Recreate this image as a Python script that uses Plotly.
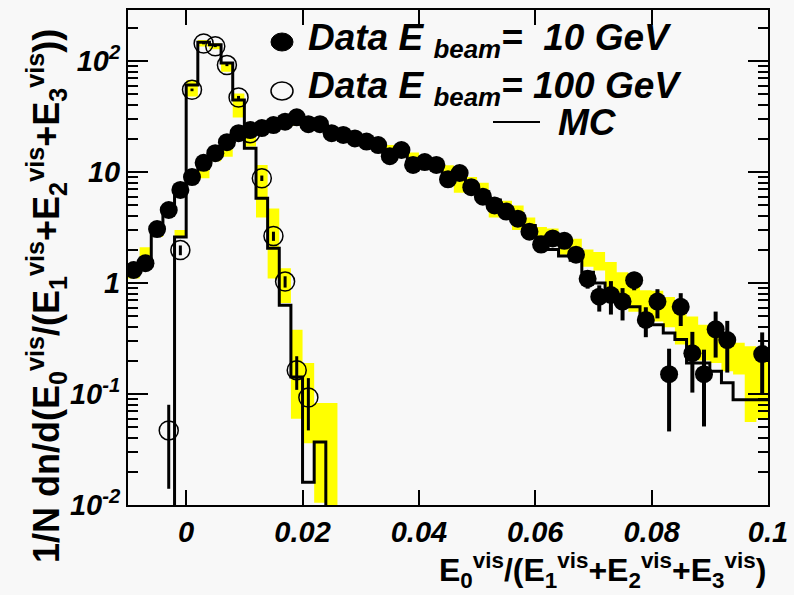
import plotly.graph_objects as go

# ---------------- data ----------------
# 10 GeV data (filled circles): bin centres, values, errors
x10 = [-0.009, -0.007, -0.005, -0.003, -0.001, 0.001, 0.003, 0.005, 0.007, 0.009,
       0.011, 0.013, 0.015, 0.017, 0.019, 0.021, 0.023, 0.025, 0.027, 0.029,
       0.031, 0.033, 0.035, 0.037, 0.039, 0.041, 0.043, 0.045, 0.047, 0.049,
       0.051, 0.053, 0.055, 0.057, 0.059, 0.061, 0.063, 0.065, 0.067, 0.069,
       0.071, 0.073, 0.075, 0.077, 0.079, 0.081, 0.083, 0.085, 0.087, 0.089,
       0.091, 0.093, 0.099]
y10 = [1.31, 1.51, 3.06, 4.55, 6.9, 9.0, 12.1, 14.8, 18.6, 22.4,
       23.9, 24.9, 26.5, 28.4, 31.1, 27.0, 27.0, 22.4, 21.6, 20.1,
       18.8, 17.5, 13.9, 15.8, 11.6, 12.3, 11.6, 8.6, 9.8, 7.3,
       6.0, 5.0, 4.4, 3.8, 2.9, 2.22, 2.52, 2.4, 1.8, 1.09,
       0.753, 0.78, 0.68, 1.06, 0.465, 0.68, 0.151, 0.61, 0.233, 0.151,
       0.383, 0.306, 0.229]
e10 = [0.05, 0.06, 0.1, 0.12, 0.15, 0.2, 0.25, 0.3, 0.35, 0.4,
       0.4, 0.4, 0.45, 0.45, 0.5, 0.45, 0.45, 0.4, 0.4, 0.4,
       0.35, 0.35, 0.3, 0.3, 0.28, 0.28, 0.28, 0.22, 0.24, 0.2,
       0.18, 0.16, 0.15, 0.14, 0.13, 0.16, 0.17, 0.17, 0.15, 0.2,
       0.2, 0.26, 0.22, 0.2, 0.14, 0.2, 0.105, 0.2, 0.13, 0.1,
       0.17, 0.15, 0.13]

# 100 GeV data (open circles)
x100 = [-0.003, -0.001, 0.001, 0.003, 0.005, 0.007, 0.009, 0.011, 0.013, 0.015,
        0.017, 0.019, 0.021]
y100 = [0.047, 1.98, 55, 144, 136, 92, 47, 22.4, 8.8, 2.65, 1.03, 0.164, 0.093]
e100 = [0.033, 0.2, 1.5, 2.5, 2.5, 2.0, 1.5, 1.0, 0.5, 0.25, 0.12, 0.055, 0.046]

# MC 10 GeV histogram: bin edges, contents, uncertainty band
edges10 = [-0.010, -0.008, -0.006, -0.004, -0.002, 0.000, 0.002, 0.004, 0.006, 0.008,
           0.010, 0.012, 0.014, 0.016, 0.018, 0.020, 0.022, 0.024, 0.026, 0.028,
           0.030, 0.032, 0.034, 0.036, 0.038, 0.040, 0.042, 0.044, 0.046, 0.048,
           0.050, 0.052, 0.054, 0.056, 0.058, 0.060, 0.062, 0.064, 0.066, 0.068,
           0.070, 0.072, 0.074, 0.076, 0.078, 0.080, 0.082, 0.084, 0.086, 0.088,
           0.090, 0.092, 0.094, 0.096, 0.098, 0.100]
mc10 = [1.25, 1.45, 2.9, 4.4, 6.6, 8.8, 11.5, 14.5, 18.0, 21.5,
        23.5, 25.0, 26.5, 28.0, 29.0, 27.5, 26.0, 23.5, 21.5, 20.0,
        18.5, 17.0, 15.5, 14.5, 13.0, 12.0, 11.0, 9.6, 8.8, 7.6,
        6.6, 5.6, 4.8, 4.0, 3.3, 2.6, 2.0, 1.75, 1.6, 1.25,
        1.0, 0.85, 0.72, 0.61, 0.465, 0.42, 0.355, 0.31, 0.19, 0.19,
        0.16, 0.126, 0.089, 0.089, 0.089]
lo10 = [1.1, 1.6, 2.6, 4.0, 6.0, 7.8, 8.8, 12.5, 13.7, 19.0,
        21.0, 23.0, 24.0, 26.0, 26.0, 25.0, 24.0, 21.0, 20.0, 19.0,
        17.5, 16.0, 14.5, 13.5, 12.5, 11.5, 10.5, 9.5, 6.5, 7.0,
        6.2, 3.9, 4.2, 3.0, 2.9, 2.5, 2.4, 1.8, 1.7, 1.4,
        1.3, 0.8, 0.75, 0.55, 0.45, 0.45, 0.4, 0.28, 0.26, 0.2,
        0.19, 0.16, 0.15, 0.056, 0.06]
hi10 = [1.5, 2.1, 3.2, 4.8, 7.2, 9.2, 11.5, 15.0, 17.0, 23.0,
        25.0, 26.0, 28.0, 30.0, 31.0, 29.0, 28.0, 25.0, 23.5, 22.0,
        20.5, 19.0, 17.5, 16.0, 15.0, 13.5, 12.5, 11.5, 9.0, 9.0,
        8.0, 5.2, 5.5, 5.0, 3.9, 3.2, 3.1, 2.6, 2.5, 2.0,
        1.9, 1.55, 1.25, 0.95, 0.86, 0.85, 0.75, 0.55, 0.5, 0.42,
        0.4, 0.3, 0.29, 0.27, 0.25]

# MC 100 GeV histogram
edges100 = [-0.004, -0.002, 0.000, 0.002, 0.004, 0.006, 0.008, 0.010, 0.012, 0.014,
            0.016, 0.018, 0.020, 0.022, 0.024, 0.026]
mc100 = [1e-4, 2.6, 61, 148, 140, 96, 44.5, 16.4, 5.8, 2.06, 0.63, 0.142, 0.016, 0.037, 1e-4]
bedges100 = [-0.002, 0.000, 0.002, 0.004, 0.006, 0.008, 0.010, 0.012, 0.014, 0.016,
             0.018, 0.020, 0.022, 0.024, 0.026]
lo100 = [2.6, 48, 135, 128, 80, 31, 17, 3.9, 1.1, 0.66, 0.06, 0.036, 0.0105, 0.005]
hi100 = [3.0, 67, 155, 145, 96, 51, 27.6, 11.6, 4.7, 1.36, 0.38, 0.19, 0.083, 0.083]

xtickvals = [0, 0.02, 0.04, 0.06, 0.08, 0.1]
xticktext = ["0", "0.02", "0.04", "0.06", "0.08", "0.1"]
ytickvals = [0.01, 0.1, 1, 10, 100]
yticktext = ["10<sup>-2</sup>", "10<sup>-1</sup>", "1", "10", "10<sup>2</sup>"]
yminor = [m * d for d in [0.01, 0.1, 1, 10, 100] for m in range(2, 10) if m * d < 300]

# ---------------- helpers ----------------
def band_xy(edges, lo, hi):
    xs, ys = [], []
    for i in range(len(lo)):
        x0, x1 = edges[i], edges[i + 1]
        xs += [x0, x1, x1, x0, x0, None]
        ys += [lo[i], lo[i], hi[i], hi[i], lo[i], None]
    return xs, ys

YEL = "#ffff00"
FONT = "Liberation Sans, Arial, Helvetica, sans-serif"

fig = go.Figure()

bx, by = band_xy(edges10, lo10, hi10)
fig.add_trace(go.Scatter(x=bx, y=by, mode="lines", fill="toself", fillcolor=YEL,
                         line=dict(width=0, color=YEL), hoverinfo="skip", showlegend=False))
bx, by = band_xy(bedges100, lo100, hi100)
fig.add_trace(go.Scatter(x=bx, y=by, mode="lines", fill="toself", fillcolor=YEL,
                         line=dict(width=0, color=YEL), hoverinfo="skip", showlegend=False))

fig.add_trace(go.Scatter(x=edges10, y=mc10 + [mc10[-1]], mode="lines", line_shape="hv",
                         line=dict(color="black", width=3), showlegend=False))
fig.add_trace(go.Scatter(x=edges100, y=mc100 + [mc100[-1]], mode="lines", line_shape="hv",
                         line=dict(color="black", width=3), showlegend=False))

fig.add_trace(go.Scatter(x=x10, y=y10, mode="markers",
                         marker=dict(symbol="circle", size=18, color="black"),
                         error_y=dict(type="data", array=e10, color="black", thickness=4, width=0),
                         showlegend=False))
fig.add_trace(go.Scatter(x=x100, y=y100, mode="markers",
                         marker=dict(symbol="circle-open", size=19, color="black",
                                     line=dict(width=1.5, color="black")),
                         error_y=dict(type="data", array=e100, color="black", thickness=3, width=0),
                         showlegend=False))

xtickfont = dict(family=FONT, size=29, color="black", weight="bold", style="italic")
ytickfont = dict(family=FONT, size=29, color="black", weight="bold", style="italic")

fig.update_xaxes(range=[-0.01, 0.1], tickvals=xtickvals, ticktext=xticktext,
                 ticks="inside", ticklen=15, tickwidth=1.5, tickcolor="black",
                 showline=True, linewidth=2, linecolor="black", mirror="ticks",
                 showgrid=False, zeroline=False, tickfont=xtickfont)
fig.update_yaxes(type="log", range=[-2, 2.46], tickvals=ytickvals, ticktext=yticktext,
                 ticks="inside", ticklen=20, tickwidth=1.5, tickcolor="black",
                 minor=dict(ticks="inside", ticklen=10, tickwidth=1.5, tickcolor="black",
                            tickvals=yminor, showgrid=False),
                 showline=True, linewidth=2, linecolor="black", mirror="ticks",
                 showgrid=False, zeroline=False, tickfont=ytickfont)

L, R, T, B = 128, 26, 10, 90
W, H = 794, 595
PW, PH = W - L - R, H - T - B

def px(x):
    return (x - L) / PW

def py(y):
    return (H - B - y) / PH

legfont = dict(family=FONT, size=37, color="black", weight="bold", style="italic")
shapes = [
    dict(type="circle", xref="paper", yref="paper", x0=px(271), x1=px(293), y0=py(51), y1=py(33),
         fillcolor="black", line=dict(color="black", width=1)),
    dict(type="circle", xref="paper", yref="paper", x0=px(271), x1=px(293), y0=py(100), y1=py(82),
         fillcolor="rgba(0,0,0,0)", line=dict(color="black", width=1.5)),
    dict(type="line", xref="paper", yref="paper", x0=px(493), x1=px(540), y0=py(122), y1=py(122),
         line=dict(color="black", width=2)),
]
annotations = [
    dict(text="Data E <sub>beam</sub>=  10 GeV", xref="paper", yref="paper", x=px(306), y=py(40),
         xanchor="left", yanchor="middle", showarrow=False, font=legfont),
    dict(text="Data E <sub>beam</sub>= 100 GeV", xref="paper", yref="paper", x=px(306), y=py(88),
         xanchor="left", yanchor="middle", showarrow=False, font=legfont),
    dict(text="MC", xref="paper", yref="paper", x=px(556), y=py(122),
         xanchor="left", yanchor="middle", showarrow=False, font=legfont),
    dict(text="E<sub>0</sub><sup>vis</sup>/(E<sub>1</sub><sup>vis</sup>+E<sub>2</sub><sup>vis</sup>+E<sub>3</sub><sup>vis</sup>)",
         xref="paper", yref="paper", x=1.0, y=py(595), xanchor="right", yanchor="bottom",
         showarrow=False, font=dict(family=FONT, size=32, color="black", weight="bold")),
    dict(text="1/N dn/d(E<sub>0</sub><sup>vis</sup>/(E<sub>1</sub><sup>vis</sup>+E<sub>2</sub><sup>vis</sup>+E<sub>3</sub><sup>vis</sup>))",
         xref="paper", yref="paper", x=px(46), y=py(296), xanchor="center", yanchor="middle",
         textangle=-90, showarrow=False, font=dict(family=FONT, size=36, color="black", weight="bold")),
]

fig.update_layout(width=W, height=H, margin=dict(l=L, r=R, t=T, b=B, autoexpand=False),
                  paper_bgcolor="#f8f8f8", plot_bgcolor="#f8f8f8",
                  shapes=shapes, annotations=annotations, showlegend=False)

fig.write_html("out.html")
